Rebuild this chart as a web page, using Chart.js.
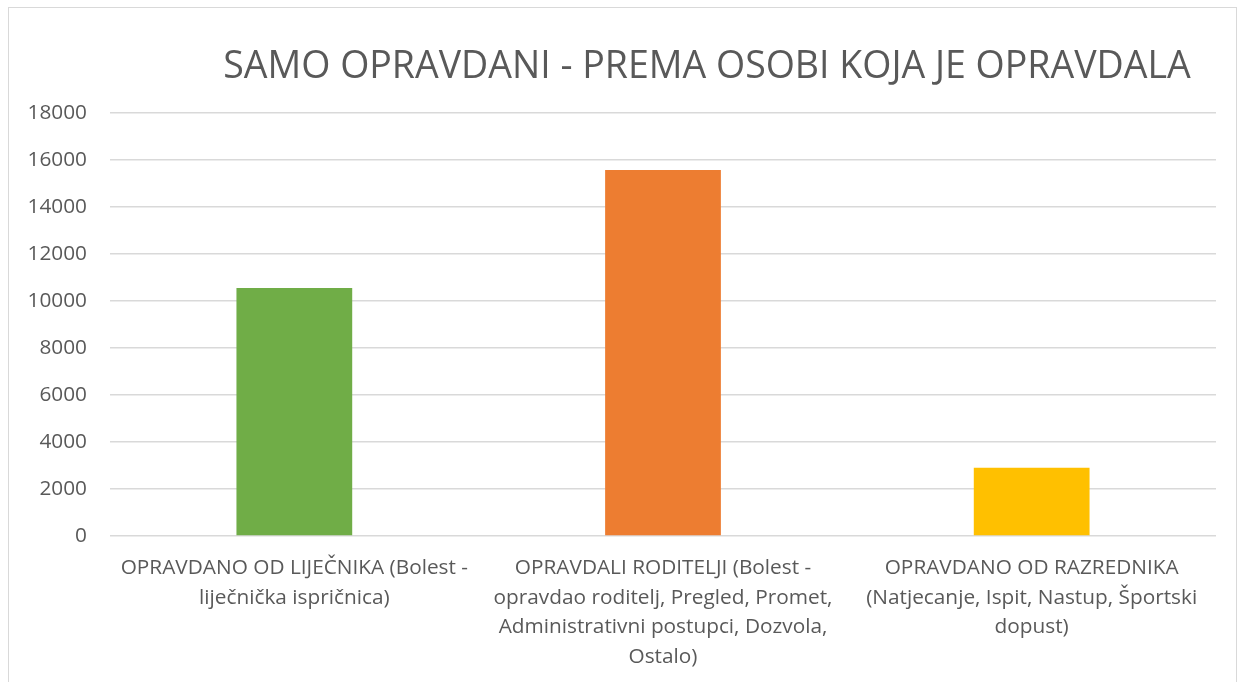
<!DOCTYPE html>
<html>
<head>
<meta charset="utf-8">
<script src="https://cdn.jsdelivr.net/npm/chart.js@4.4.0/dist/chart.umd.min.js"></script>
<style>
  html, body { margin: 0; padding: 0; background: #fff; overflow: hidden; }
  #frame {
    position: absolute; left: 8px; top: 7px; width: 1229px; height: 700px;
    border: 1.5px solid #d9d9d9; box-sizing: border-box;
  }
  #title {
    position: absolute; left: 0; top: 34px; width: 1400px; text-align: center;
    font-family: "Open Sans", sans-serif; font-size: 37.5px; color: #595959;
    line-height: 44px; white-space: nowrap;
  }
  #chart { position: absolute; left: 0; top: 0; }
</style>
</head>
<body>
<div id="frame">
  <canvas id="chart" width="1226" height="690"></canvas>
  <div id="title">SAMO OPRAVDANI - PREMA OSOBI KOJA JE OPRAVDALA</div>
</div>
<script>
// ── Data ──────────────────────────────────────────────────────────────
const categories = [
  ['OPRAVDANO OD LIJEČNIKA (Bolest -', 'liječnička ispričnica)'],
  ['OPRAVDALI RODITELJI (Bolest -', 'opravdao roditelj, Pregled, Promet,', 'Administrativni postupci, Dozvola,', 'Ostalo)'],
  ['OPRAVDANO OD RAZREDNIKA', '(Natjecanje, Ispit, Nastup, Športski', 'dopust)'],
];
const values = [10550, 15570, 2900];
const barColors = ['#70ad47', '#ed7d31', '#ffc000'];
const yTicks = [0, 2000, 4000, 6000, 8000, 10000, 12000, 14000, 16000, 18000];

// ── Style ─────────────────────────────────────────────────────────────
const TEXT = '#595959';
const GRID = '#d9d9d9';
const FONT = '"Open Sans", sans-serif';

// title is centred a bit right of the canvas centre, as in the reference
document.getElementById('title').style.left = (707 - 9 - 700) + 'px';

new Chart(document.getElementById('chart').getContext('2d'), {
  type: 'bar',
  data: {
    labels: categories,
    datasets: [{
      data: values,
      backgroundColor: barColors,
      borderWidth: 0,
      barPercentage: 0.314,
      categoryPercentage: 1,
    }],
  },
  options: {
    responsive: false,
    animation: false,
    layout: { padding: { top: 105, right: 19, left: 0, bottom: 0 } },
    plugins: {
      legend: { display: false },
      tooltip: { enabled: false },
      title: { display: false },
    },
    scales: {
      x: {
        grid: { display: false },
        border: { display: false },
        ticks: {
          color: TEXT,
          font: { family: FONT, size: 20.8, lineHeight: 1.43 },
          maxRotation: 0, minRotation: 0, autoSkip: false, padding: 9,
        },
        afterFit: s => { s.height = 162; },
      },
      y: {
        min: 0, max: 18000,
        afterBuildTicks: s => { s.ticks = yTicks.map(v => ({ value: v })); },
        grid: { color: GRID, lineWidth: 1.5, drawTicks: false },
        border: { display: false },
        ticks: {
          color: TEXT,
          font: { family: FONT, size: 20.8 },
          padding: 23,
          callback: v => String(v),
        },
        afterFit: s => { s.width = 101; },
      },
    },
  },
});
</script>
</body>
</html>
